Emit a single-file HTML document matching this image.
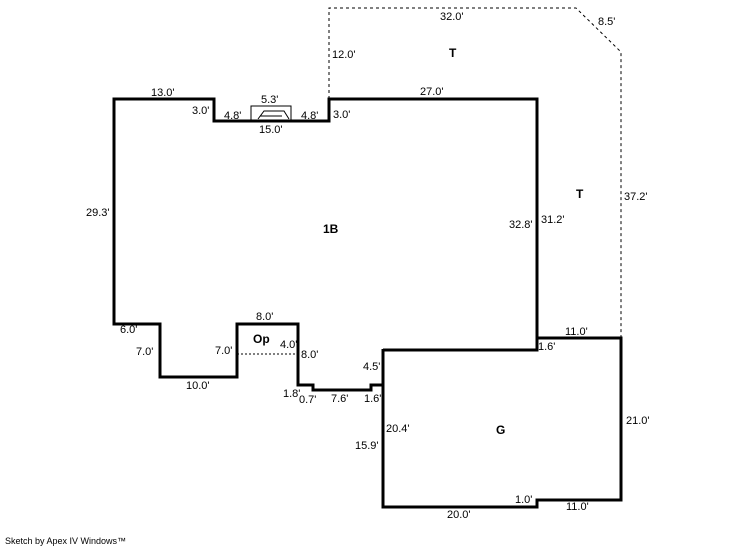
<!DOCTYPE html>
<html><head><style>
body{margin:0;background:#fff}
svg text{font-family:"Liberation Sans",sans-serif;font-size:11px;fill:#000}
.b{font-weight:bold;font-size:12px}
</style></head><body>
<svg width="746" height="547" viewBox="0 0 746 547">
<g fill="none" stroke="#000">
<polyline stroke-dasharray="3,3" stroke-width="1" points="329,99 329,8 576,8 621,52 621,338"/>
<polyline stroke-width="3" stroke-linejoin="miter" points="383,350 537,350 537,99 329,99 329,121 214,121 214,99 114,99 114,324 160,324 160,377 237,377 237,324 298,324 298,385 313,385 313,390 371,390 371,385 383,385"/>
<polyline stroke-width="3" points="537,350 537,338 621,338 621,500 537,500 537,507 383,507 383,349"/>
<rect x="251" y="106" width="40" height="15" stroke-width="1"/>
<polyline stroke-width="1" points="258,119 264,111 284,111 289,119"/>
<line x1="260" y1="116" x2="282" y2="116" stroke-width="1"/>
<line x1="237" y1="354" x2="298" y2="354" stroke-dasharray="2,2" stroke-width="1"/>
</g>
<text x="440" y="20">32.0'</text>
<text x="598" y="25">8.5'</text>
<text x="332" y="58">12.0'</text>
<text class="b" x="449" y="57">T</text>
<text x="151" y="96">13.0'</text>
<text x="192" y="114">3.0'</text>
<text x="224" y="119">4.8'</text>
<text x="261" y="103">5.3'</text>
<text x="259" y="133">15.0'</text>
<text x="301" y="119">4.8'</text>
<text x="333" y="118">3.0'</text>
<text x="420" y="95">27.0'</text>
<text class="b" x="576" y="198">T</text>
<text x="624" y="200">37.2'</text>
<text x="86" y="216">29.3'</text>
<text class="b" x="323" y="233">1B</text>
<text x="509" y="228">32.8'</text>
<text x="541" y="223">31.2'</text>
<text x="120" y="333">6.0'</text>
<text x="256" y="320">8.0'</text>
<text class="b" x="253" y="343">Op</text>
<text x="280" y="348">4.0'</text>
<text x="301" y="358">8.0'</text>
<text x="136" y="355">7.0'</text>
<text x="215" y="354">7.0'</text>
<text x="186" y="389">10.0'</text>
<text x="283" y="397">1.8'</text>
<text x="299" y="403">0.7'</text>
<text x="331" y="402">7.6'</text>
<text x="364" y="402">1.6'</text>
<text x="363" y="370">4.5'</text>
<text x="565" y="335">11.0'</text>
<text x="538" y="350">1.6'</text>
<text x="386" y="432">20.4'</text>
<text x="355" y="449">15.9'</text>
<text class="b" x="496" y="434">G</text>
<text x="626" y="424">21.0'</text>
<text x="515" y="503">1.0'</text>
<text x="566" y="510">11.0'</text>
<text x="447" y="518">20.0'</text>
<text x="5" y="544" style="font-size:9px">Sketch by Apex IV Windows™</text>
</svg>
</body></html>
